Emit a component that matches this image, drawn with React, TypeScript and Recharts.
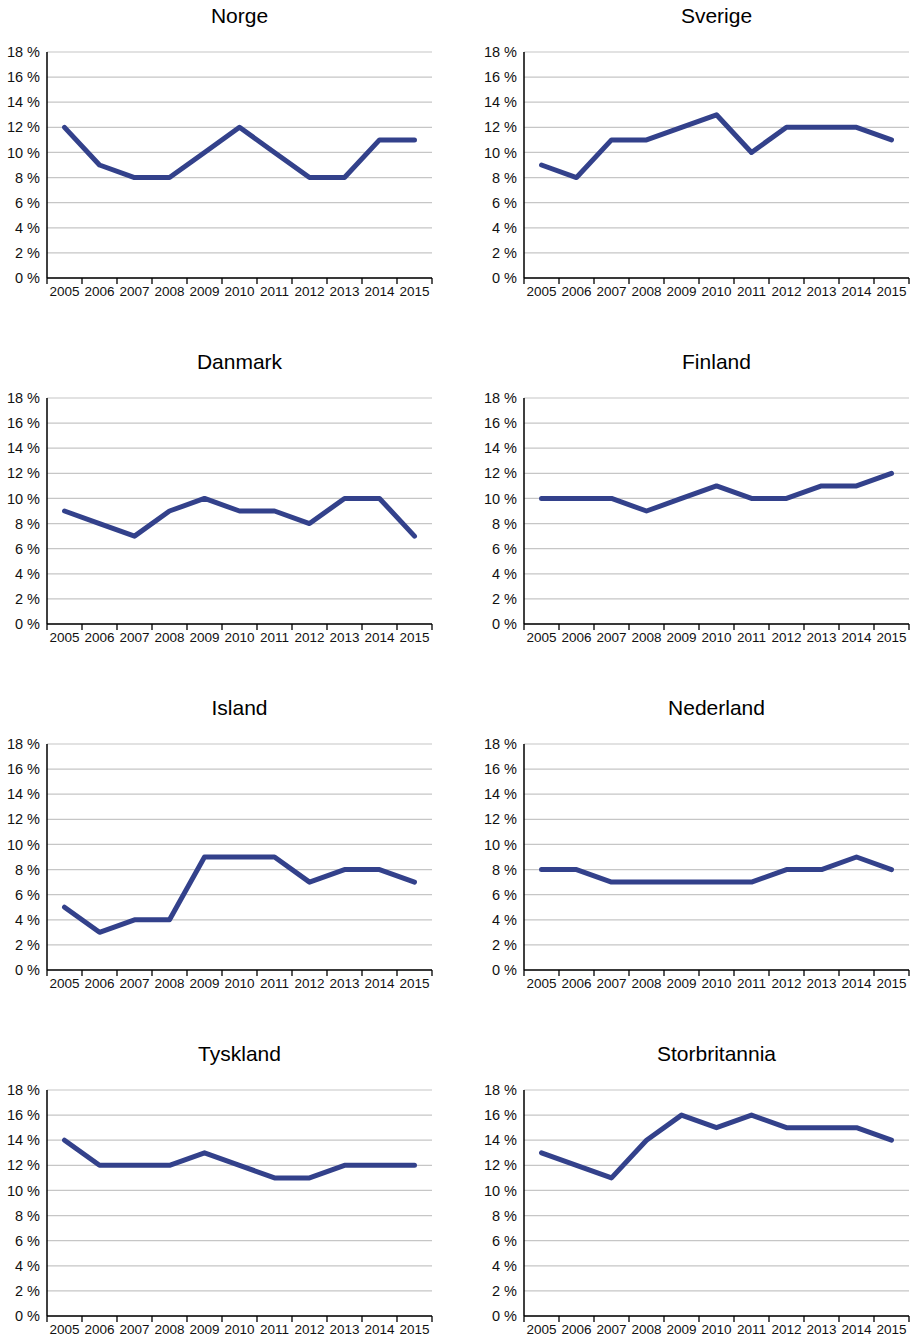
import { LineChart, Line, XAxis, YAxis, CartesianGrid } from "recharts";

const years = ["2005", "2006", "2007", "2008", "2009", "2010", "2011", "2012", "2013", "2014", "2015"];
const yTicks = [0, 2, 4, 6, 8, 10, 12, 14, 16, 18];

const countries = ["Norge", "Sverige", "Danmark", "Finland", "Island", "Nederland", "Tyskland", "Storbritannia"];

const norge = [12, 9, 8, 8, 10, 12, 10, 8, 8, 11, 11];
const sverige = [9, 8, 11, 11, 12, 13, 10, 12, 12, 12, 11];
const danmark = [9, 8, 7, 9, 10, 9, 9, 8, 10, 10, 7];
const finland = [10, 10, 10, 9, 10, 11, 10, 10, 11, 11, 12];
const island = [5, 3, 4, 4, 9, 9, 9, 7, 8, 8, 7];
const nederland = [8, 8, 7, 7, 7, 7, 7, 8, 8, 9, 8];
const tyskland = [14, 12, 12, 12, 13, 12, 11, 11, 12, 12, 12];
const storbritannia = [13, 12, 11, 14, 16, 15, 16, 15, 15, 15, 14];

const series = [norge, sverige, danmark, finland, island, nederland, tyskland, storbritannia];

const FONT = "'Liberation Sans', Arial, sans-serif";
const LINE_COLOR = "#33418b";

// chart geometry
const CHART_W = 434;
const CHART_H = 310;
const MARGIN = { top: 52, right: 2, left: 7, bottom: 7 };
const Y_AXIS_W = 40;
const PLOT_W = CHART_W - MARGIN.left - MARGIN.right - Y_AXIS_W;
const BAND = PLOT_W / years.length;
const TICK_SIZE = 6;
const TICK_MARGIN = 2;

const COL_LEFT = [0, 477];
const ROW_PITCH = 346;

function YearTick(props: any) {
  const { x, y, payload, index } = props;
  const half = BAND / 2;
  const axisY = y - TICK_SIZE - TICK_MARGIN;
  return (
    <g>
      <line x1={x - half} x2={x - half} y1={axisY} y2={axisY + TICK_SIZE} stroke="#000" strokeWidth={1.3} />
      {index === years.length - 1 && (
        <line x1={x + half} x2={x + half} y1={axisY} y2={axisY + TICK_SIZE} stroke="#000" strokeWidth={1.3} />
      )}
      <text x={x} y={y} dy="0.71em" textAnchor="middle" fontSize={13.5} fontFamily={FONT} fill="#111">
        {payload.value}
      </text>
    </g>
  );
}

function CountryChart({ title, values, left, top }: { title: string; values: number[]; left: number; top: number }) {
  const data = years.map((year, i) => ({ year, value: values[i] }));
  return (
    <div style={{ position: "absolute", left, top, width: CHART_W, height: CHART_H }}>
      <div
        style={{
          position: "absolute",
          left: MARGIN.left + Y_AXIS_W,
          top: 5,
          width: PLOT_W,
          textAlign: "center",
          fontFamily: FONT,
          fontSize: 21,
          lineHeight: 1,
          color: "#000",
        }}
      >
        {title}
      </div>
      <LineChart width={CHART_W} height={CHART_H} data={data} margin={MARGIN}>
        <CartesianGrid vertical={false} stroke="#c6c6c6" strokeWidth={1.2} />
        <XAxis
          dataKey="year"
          padding={{ left: BAND / 2, right: BAND / 2 }}
          interval={0}
          height={25}
          tickLine={false}
          tickSize={TICK_SIZE}
          tickMargin={TICK_MARGIN}
          tick={<YearTick />}
          axisLine={{ stroke: "#000", strokeWidth: 1.5 }}
        />
        <YAxis
          domain={[0, 18]}
          ticks={yTicks}
          width={Y_AXIS_W}
          interval={0}
          tickLine={false}
          tickSize={0}
          tickMargin={7}
          tickFormatter={(v: number) => `${v} %`}
          tick={{ fontSize: 14.5, fontFamily: FONT, fill: "#111" }}
          axisLine={{ stroke: "#000", strokeWidth: 1.5 }}
        />
        <Line
          type="linear"
          dataKey="value"
          stroke={LINE_COLOR}
          strokeWidth={5}
          strokeLinecap="round"
          strokeLinejoin="round"
          dot={false}
          activeDot={false}
          isAnimationActive={false}
        />
      </LineChart>
    </div>
  );
}

export default function App() {
  return (
    <div style={{ position: "absolute", left: 0, top: 0, width: 911, height: 1338, background: "#fff" }}>
      {countries.map((name, i) => (
        <CountryChart
          key={name}
          title={name}
          values={series[i]}
          left={COL_LEFT[i % 2]}
          top={Math.floor(i / 2) * ROW_PITCH}
        />
      ))}
    </div>
  );
}
